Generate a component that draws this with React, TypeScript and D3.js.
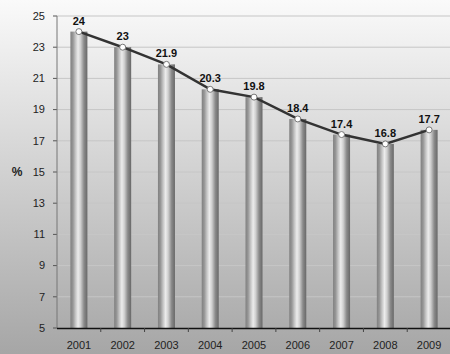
import React from "react";
import * as d3 from "d3";

const years = ["2001", "2002", "2003", "2004", "2005", "2006", "2007", "2008", "2009"];
const values = [24, 23, 21.9, 20.3, 19.8, 18.4, 17.4, 16.8, 17.7];
const yTicks = [5, 7, 9, 11, 13, 15, 17, 19, 21, 23, 25];

const W = 450, H = 354;
const left = 57, right = 451, top = 16, bottom = 328;

export default function App() {
  const x = d3.scaleBand<string>().domain(years).range([left, right]).paddingInner(0).paddingOuter(0);
  const y = d3.scaleLinear().domain([5, 25]).range([bottom, top]);
  const bw = 17;
  const line = d3.line<number>().x((_, i) => x(years[i])! + x.bandwidth() / 2).y((d) => y(d));
  const font = "Arial, 'Liberation Sans', sans-serif";
  return (
    <svg width={W} height={H} style={{ position: "absolute", left: 0, top: 0, display: "block" }}>
      <defs>
        <linearGradient id="bg" x1="0" y1="0" x2="0" y2="1">
          <stop offset="0" stopColor="#fafafa" />
          <stop offset="1" stopColor="#a6a6a6" />
        </linearGradient>
        <linearGradient id="bar" x1="0" y1="0" x2="1" y2="0">
          <stop offset="0" stopColor="#808080" />
          <stop offset="0.15" stopColor="#969696" />
          <stop offset="0.3" stopColor="#c4c4c4" />
          <stop offset="0.45" stopColor="#ececec" />
          <stop offset="0.6" stopColor="#cfcfcf" />
          <stop offset="0.8" stopColor="#8a8a8a" />
          <stop offset="1" stopColor="#686868" />
        </linearGradient>
      </defs>
      <rect x={0} y={0} width={W} height={H} fill="url(#bg)" />
      {yTicks.map((t) => (
        <g key={t}>
          {t > 5 && <line x1={left} x2={right} y1={y(t)} y2={y(t)} stroke="#c6c6c6" strokeWidth={1} />}
          <line x1={left - 4} x2={left} y1={y(t)} y2={y(t)} stroke="#555" strokeWidth={1} />
          <text x={45} y={y(t)} dy="0.35em" textAnchor="end" fontFamily={font} fontSize={11} fill="#222">
            {t}
          </text>
        </g>
      ))}
      <text x={17} y={y(15)} dy="0.35em" textAnchor="middle" fontFamily={font} fontSize={12} fontWeight="bold" fill="#222">
        %
      </text>
      {values.map((v, i) => (
        <rect
          key={years[i]}
          x={x(years[i])! + x.bandwidth() / 2 - bw / 2}
          y={y(v)}
          width={bw}
          height={bottom - y(v)}
          fill="url(#bar)"
        />
      ))}
      <line x1={left} x2={left} y1={top} y2={bottom} stroke="#777" strokeWidth={1} />
      <line x1={left} x2={right} y1={bottom + 0.5} y2={bottom + 0.5} stroke="#111" strokeWidth={1.5} />
      {years.map((yr, i) =>
        i > 0 ? (
          <line key={"t" + yr} x1={x(yr)!} x2={x(yr)!} y1={bottom} y2={bottom + 4} stroke="#444" strokeWidth={1} />
        ) : null
      )}
      {years.map((yr) => (
        <text key={"l" + yr} x={x(yr)! + x.bandwidth() / 2} y={345} dy="0.35em" textAnchor="middle" fontFamily={font} fontSize={11} fill="#222">
          {yr}
        </text>
      ))}
      <path d={line(values)!} fill="none" stroke="#333" strokeWidth={2.5} />
      {values.map((v, i) => (
        <g key={"p" + i}>
          <circle cx={x(years[i])! + x.bandwidth() / 2} cy={y(v)} r={3} fill="#fff" stroke="#777" strokeWidth={1} />
          <text x={x(years[i])! + x.bandwidth() / 2} y={y(v) - 7} textAnchor="middle" fontFamily={font} fontSize={11} fontWeight="bold" fill="#111">
            {v}
          </text>
        </g>
      ))}
    </svg>
  );
}
